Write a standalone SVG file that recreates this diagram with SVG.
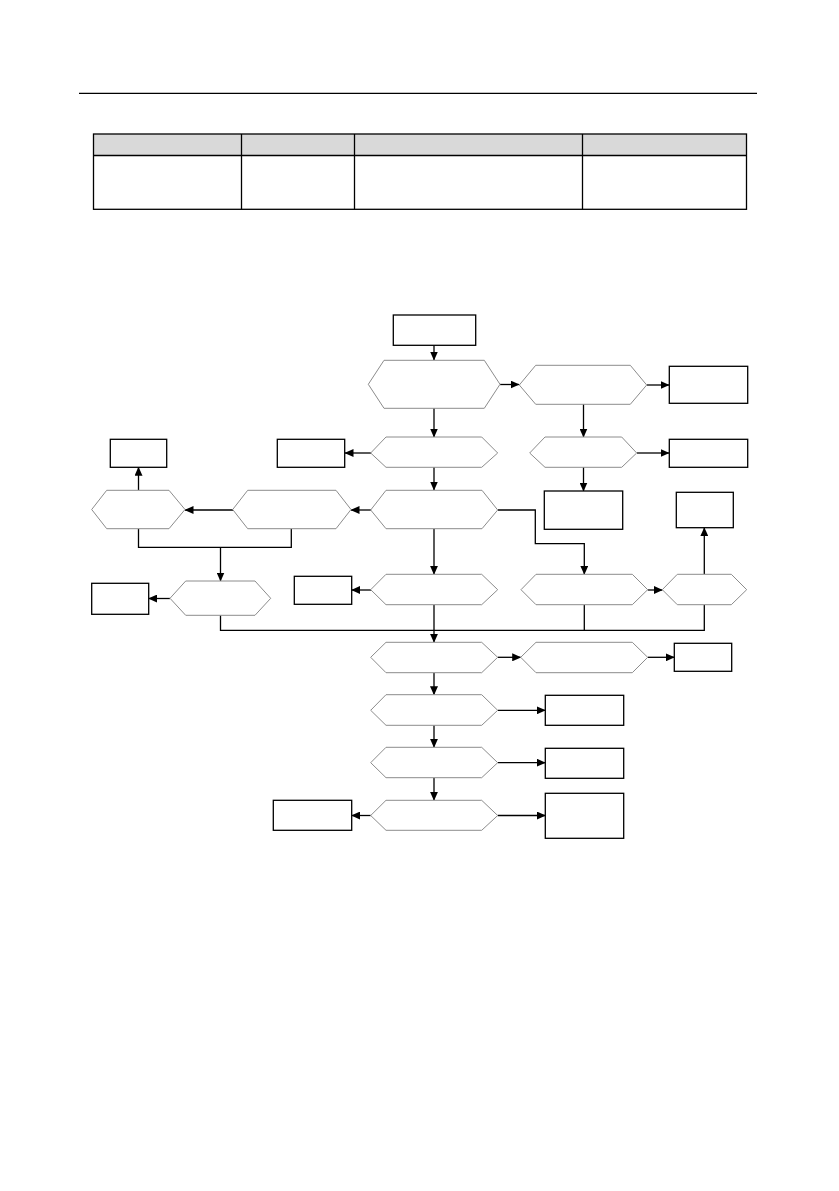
<svg xmlns="http://www.w3.org/2000/svg" width="839" height="1191" viewBox="0 0 839 1191">
<style>
.box{fill:#fff;stroke:#000;stroke-width:1.3}
.hex{fill:#fff;stroke:#8c8c8c;stroke-width:1}
.cn{fill:none;stroke:#000;stroke-width:1.3}
.tb{fill:none;stroke:#000;stroke-width:1.3}
</style>
<defs>
<marker id="ah" markerUnits="userSpaceOnUse" markerWidth="9" markerHeight="8" refX="8.5" refY="4" orient="auto">
<path d="M0,0 L9,4 L0,8 z" fill="#000"/>
</marker>
</defs>
<rect width="839" height="1191" fill="#fff"/>
<g id="header">
<line x1="79" y1="93.3" x2="757" y2="93.3" stroke="#000" stroke-width="1.3"/>
</g>
<g id="table">
<rect x="93.5" y="134" width="653" height="21.5" fill="#d9d9d9"/>
<rect class="tb" x="93.5" y="134" width="653" height="75.3"/>
<line class="tb" x1="93.5" y1="155.5" x2="746.5" y2="155.5"/>
<line class="tb" x1="241.5" y1="134" x2="241.5" y2="209.3"/>
<line class="tb" x1="354.5" y1="134" x2="354.5" y2="209.3"/>
<line class="tb" x1="582.5" y1="134" x2="582.5" y2="209.3"/>
</g>
<g id="connectors">
<path class="cn" marker-end="url(#ah)" d="M434,345 V360"/>
<path class="cn" marker-end="url(#ah)" d="M500,384.5 H519"/>
<path class="cn" marker-end="url(#ah)" d="M647,385 H669"/>
<path class="cn" marker-end="url(#ah)" d="M434,408 V437"/>
<path class="cn" marker-end="url(#ah)" d="M583.5,404 V437"/>
<path class="cn" marker-end="url(#ah)" d="M637,453 H669"/>
<path class="cn" marker-end="url(#ah)" d="M583.5,467 V491"/>
<path class="cn" marker-end="url(#ah)" d="M371,453 H345"/>
<path class="cn" marker-end="url(#ah)" d="M434,467 V490"/>
<path class="cn" marker-end="url(#ah)" d="M371,510 H351"/>
<path class="cn" marker-end="url(#ah)" d="M233,510 H185"/>
<path class="cn" marker-end="url(#ah)" d="M138.5,490 V467.3"/>
<path class="cn" d="M138.5,528.7 V547.3 H291.3 V528.7"/>
<path class="cn" marker-end="url(#ah)" d="M220.5,547.3 V581"/>
<path class="cn" marker-end="url(#ah)" d="M170,598.5 H148.7"/>
<path class="cn" marker-end="url(#ah)" d="M434,528.7 V574.3"/>
<path class="cn" marker-end="url(#ah)" d="M371,590 H351.7"/>
<path class="cn" marker-end="url(#ah)" d="M498,510 H535.3 V543.7 H584.3 V574.3"/>
<path class="cn" marker-end="url(#ah)" d="M647.7,590 H662.3"/>
<path class="cn" marker-end="url(#ah)" d="M704.3,574.3 V527.7"/>
<path class="cn" d="M220.5,615.3 V630.3 H704.3 V604.7"/>
<path class="cn" d="M584.3,604.7 V630.3"/>
<path class="cn" marker-end="url(#ah)" d="M434,604.7 V642.3"/>
<path class="cn" marker-end="url(#ah)" d="M497.7,657.3 H520.7"/>
<path class="cn" marker-end="url(#ah)" d="M647.7,657.3 H674.3"/>
<path class="cn" marker-end="url(#ah)" d="M434,672.7 V694.7"/>
<path class="cn" marker-end="url(#ah)" d="M497.7,710.3 H545.3"/>
<path class="cn" marker-end="url(#ah)" d="M434,725.3 V747.3"/>
<path class="cn" marker-end="url(#ah)" d="M497.7,762.7 H545.3"/>
<path class="cn" marker-end="url(#ah)" d="M434,777.7 V800.3"/>
<path class="cn" marker-end="url(#ah)" d="M497.7,815.5 H545.3"/>
<path class="cn" marker-end="url(#ah)" d="M370.7,815.5 H351.7"/>
</g>
<g id="start"><rect class="box" x="393.3" y="315" width="82.4" height="30.3"/></g>
<g id="hex1"><polygon class="hex" points="368.3,384.3 384,360.3 484.3,360.3 500,384.3 484.3,408.3 384,408.3"/></g>
<g id="hex2"><polygon class="hex" points="519.3,385 535.7,365.3 630.3,365.3 646.7,385 630.3,404.3 535.7,404.3"/></g>
<g id="boxR1"><rect class="box" x="669.3" y="366.3" width="78.4" height="37"/></g>
<g id="hex3"><polygon class="hex" points="370.7,453 386,437 481.7,437 497.7,453 481.7,467.3 386,467.3"/></g>
<g id="hex4"><polygon class="hex" points="529.7,453 545,437 621.7,437 636.7,453 621.7,467.3 545,467.3"/></g>
<g id="boxR2"><rect class="box" x="669.3" y="439.3" width="78.4" height="28"/></g>
<g id="boxL1"><rect class="box" x="277.3" y="439.3" width="67.4" height="28"/></g>
<g id="boxTL"><rect class="box" x="110.3" y="439.3" width="56.4" height="28"/></g>
<g id="boxR3"><rect class="box" x="544.3" y="491" width="78.4" height="38.3"/></g>
<g id="boxR4"><rect class="box" x="676.3" y="492.3" width="57" height="35.4"/></g>
<g id="hex5"><polygon class="hex" points="370.7,510 386,490.3 482,490.3 497.7,510 482,528.7 386,528.7"/></g>
<g id="hexL2"><polygon class="hex" points="232.7,509.5 247.7,490.3 336,490.3 351,509.5 336,528.7 247.7,528.7"/></g>
<g id="hexL1"><polygon class="hex" points="91.7,509.5 106.7,490.3 169,490.3 185,509.5 169,528.7 106.7,528.7"/></g>
<g id="hexL3"><polygon class="hex" points="170,598.3 185.7,581 255,581 270.7,598.3 255,615.3 185.7,615.3"/></g>
<g id="boxLL"><rect class="box" x="91.7" y="583.3" width="57" height="31"/></g>
<g id="hex6"><polygon class="hex" points="370.7,589.7 386,574.3 481.7,574.3 497.7,589.7 481.7,604.7 386,604.7"/></g>
<g id="boxC"><rect class="box" x="294.3" y="576.3" width="57.4" height="28"/></g>
<g id="hex7"><polygon class="hex" points="521,589.7 536,574.3 632.3,574.3 647.7,589.7 632.3,604.7 536,604.7"/></g>
<g id="hex8"><polygon class="hex" points="662.3,589.7 677.3,574.3 731.3,574.3 746.7,589.7 731.3,604.7 677.3,604.7"/></g>
<g id="hex9"><polygon class="hex" points="370.7,657.3 386,642.3 481.7,642.3 497.7,657.3 481.7,672.7 386,672.7"/></g>
<g id="hex10"><polygon class="hex" points="520.7,657.3 536,642.3 632.3,642.3 647.7,657.3 632.3,672.7 536,672.7"/></g>
<g id="boxR5"><rect class="box" x="674.3" y="643.3" width="57.4" height="28"/></g>
<g id="hex11"><polygon class="hex" points="370.7,710.3 386,694.7 481.7,694.7 497.7,710.3 481.7,725.3 386,725.3"/></g>
<g id="boxR6"><rect class="box" x="545.3" y="695.3" width="78.4" height="30"/></g>
<g id="hex12"><polygon class="hex" points="370.7,762.7 386,747.3 481.7,747.3 497.7,762.7 481.7,777.7 386,777.7"/></g>
<g id="boxR7"><rect class="box" x="545.3" y="748.3" width="78.4" height="30"/></g>
<g id="hex13"><polygon class="hex" points="370.7,815.5 386,800.3 481.7,800.3 497.7,815.5 481.7,830.3 386,830.3"/></g>
<g id="boxR8"><rect class="box" x="545.3" y="793.3" width="78.4" height="45"/></g>
<g id="boxB"><rect class="box" x="273.3" y="800.3" width="78.4" height="30"/></g>
</svg>
